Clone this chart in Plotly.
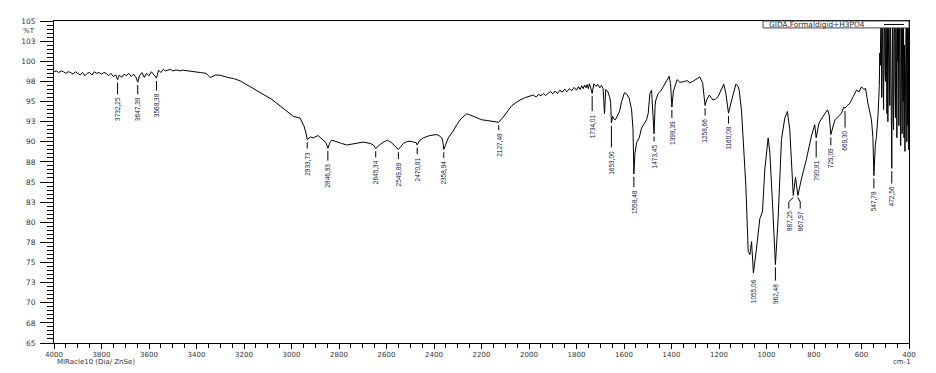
import plotly.graph_objects as go

# ---- spectrum (wavenumber cm-1, %T) ----
wavenumber = [
    4000, 3990, 3980, 3970, 3960, 3950, 3940, 3930, 3920, 3910, 3900, 3890, 3880, 3870,
    3860, 3850, 3840, 3830, 3820, 3810, 3800, 3790, 3780, 3770, 3760, 3750, 3740, 3732.25,
    3725, 3715, 3705, 3695, 3685, 3675, 3665, 3655, 3647.39, 3640, 3630, 3620, 3610, 3600,
    3590, 3580, 3568.38, 3560, 3550, 3540, 3530, 3520, 3510, 3500, 3490, 3480, 3470, 3460,
    3450, 3440, 3420, 3400, 3384, 3360, 3342, 3320, 3299, 3270, 3244, 3216, 3195, 3174,
    3150, 3132, 3104, 3085, 3062, 3040, 3020, 2992, 2964, 2947, 2940, 2933.73, 2920, 2909,
    2888, 2867, 2855, 2846.93, 2838, 2830, 2809, 2790, 2767, 2740, 2720, 2697, 2669, 2655,
    2645.34, 2635, 2627, 2610, 2596, 2580, 2564, 2549.89, 2540, 2529, 2515, 2501, 2485,
    2475, 2470.81, 2462, 2445, 2420, 2400, 2388, 2376, 2367, 2362, 2358.94, 2350, 2340,
    2320, 2304, 2285, 2270, 2262, 2250, 2235, 2215, 2199, 2180, 2165, 2145, 2135, 2127.48,
    2115, 2101, 2088, 2073, 2055, 2038, 2015, 2000,
    1982, 1970, 1960, 1950, 1940, 1930, 1920, 1910, 1900, 1890, 1880, 1870, 1860, 1850,
    1841, 1830, 1820, 1810, 1800, 1792, 1785, 1778, 1772, 1766, 1760, 1755, 1750, 1746, 1742,
    1734.01, 1727, 1718, 1710, 1702,
    1695, 1688, 1682, 1677, 1668, 1660, 1656, 1653.00, 1648, 1642, 1636, 1628, 1619, 1610,
    1598, 1588, 1578, 1568, 1562, 1558.48, 1554, 1547, 1536, 1526, 1512, 1505, 1498, 1491,
    1484, 1478, 1473.45, 1469, 1466, 1456, 1445, 1435, 1425, 1418, 1410, 1404, 1398.39,
    1392, 1386, 1376, 1365, 1351, 1335, 1323, 1310, 1302, 1290, 1281, 1269, 1263, 1258.66,
    1252, 1241, 1225, 1215, 1204, 1190, 1180, 1171, 1160.08, 1150, 1140, 1129, 1120, 1115,
    1105, 1098, 1087, 1077, 1070, 1063, 1055.06, 1042, 1028, 1017, 1007, 993, 986, 975,
    962.48, 951, 937, 923, 912, 902, 891, 887.25, 878, 873, 867.97, 853, 832, 811, 797,
    790.81, 779, 762, 743, 736, 729.09, 712, 695, 684, 675, 669.30, 660, 649, 635, 621,
    610, 600, 590, 583, 573, 558, 552, 547.78, 542, 537, 530, 527, 525, 523, 521, 519, 517,
    515, 513, 511, 509, 507, 505, 503, 501, 499, 497, 495, 493, 491, 489, 487, 485, 483,
    481, 479, 477, 475, 474, 472.56, 471, 469, 467, 465, 463, 461, 459, 457, 455, 453,
    451, 449, 447, 445, 443, 441, 439, 437, 435, 433, 431, 429, 427, 425, 423, 421, 419,
    417, 415, 413, 411, 409, 407, 405, 403, 401, 400,
]
transmittance = [
    98.7, 98.8, 98.6, 98.8, 98.7, 98.5, 98.7, 98.6, 98.4, 98.7, 98.5, 98.3, 98.6, 98.2,
    98.5, 98.6, 98.3, 98.7, 98.5, 98.6, 98.4, 98.6, 98.5, 98.2, 98.5, 98.1, 98.3, 97.7,
    98.3, 98.0, 98.4, 98.2, 98.5, 98.1, 98.4, 98.0, 97.4, 98.2, 98.6, 98.0, 98.5, 98.2,
    98.7, 98.3, 97.9, 98.9, 98.6, 99.0, 98.8, 98.9, 99.0, 98.8, 98.9, 98.9, 98.8, 98.9,
    98.85, 98.8, 98.7, 98.6, 98.6, 98.5, 97.97, 98.3, 98.25, 98.0, 97.85, 97.56, 97.2, 96.9,
    96.5, 96.2, 95.67, 95.3, 94.78, 94.3, 93.76, 93.15, 92.94, 91.92, 91.2, 90.28, 90.6, 90.48,
    90.77, 90.28, 89.9, 89.2, 89.9, 90.2, 89.96, 89.8, 89.6, 89.75, 89.9, 89.96, 89.79, 89.6,
    89.17, 89.5, 89.66, 90.0, 90.2, 89.9, 89.38, 89.05, 89.4, 89.79, 90.0, 90.08, 89.95,
    89.9, 89.6, 90.1, 90.48, 90.75, 90.85, 90.89, 90.7, 90.48, 89.9, 89.05, 89.7, 90.48,
    91.3, 92.12, 92.9, 93.35, 93.47, 93.35, 93.15, 92.9, 92.73, 92.65, 92.61, 92.5, 92.45, 92.41,
    92.8, 93.34, 93.9, 94.45, 94.85, 95.18, 95.5, 95.65,
    95.8, 95.55, 95.9, 95.7, 96.0, 95.75, 95.95, 96.25, 95.95, 96.3, 96.0, 96.4, 96.15, 96.55,
    96.2, 96.6, 96.35, 96.75, 96.4, 96.85, 96.5, 96.95, 96.6, 97.05, 96.7, 97.1, 96.6, 97.2, 96.9,
    96.0, 97.2, 96.9, 97.1, 96.7,
    97.0, 96.6, 93.5, 96.5, 96.2, 95.5, 94.78, 92.33, 93.15, 92.8, 92.73, 93.3, 93.76, 95.0,
    96.1, 95.9, 95.39, 93.96, 91.5, 86.0, 88.5, 89.9, 90.48, 91.7, 92.3, 92.73, 93.55, 96.0,
    96.4, 94.0, 91.0, 94.5, 95.18, 96.0, 96.3, 96.83, 97.3, 97.64, 98.13, 97.23, 94.3,
    96.3, 96.83, 97.72, 97.4, 97.44, 97.6, 97.32, 97.5, 97.64, 97.9, 98.06, 97.32, 96.0, 94.5,
    95.2, 95.8, 95.18, 95.3, 95.6, 96.5, 97.15, 96.0, 93.55, 94.8, 96.1, 97.15, 96.9, 96.4,
    93.8, 90.7, 84.56, 76.37, 75.97, 77.6, 73.7, 76.78, 80.46, 81.28, 86.6, 90.48, 88.64, 82.5,
    74.74, 80.46, 90.28, 92.94, 93.76, 91.5, 85.37, 83.33, 85.58, 84.5, 83.33, 85.37, 87.82, 90.69, 92.12,
    90.48, 92.33, 93.15, 93.96, 93.34, 90.89, 92.73, 93.2, 93.55, 94.3, 94.17, 94.5, 94.78, 95.6, 96.41,
    96.2, 96.83, 96.5, 96.62, 94.78, 92.73, 90.5, 85.8, 89.5, 90.69, 93.55, 95.0, 97.0, 101, 99.5, 104, 106,
    95.5, 102, 108, 97, 94.0, 103, 107, 99, 97.5, 110, 101, 93.5, 106, 92.5, 100, 106, 96,
    94.5, 108, 104, 99, 92, 86.7, 100, 108, 95, 91.5, 104, 107, 97, 93, 109, 102,
    90.5, 106, 100, 108, 92, 96, 110, 94, 89.5, 107, 101, 91, 109, 95, 106, 90.5, 102,
    88.8, 106, 97, 110, 90, 108, 92, 107, 89, 100, 88.0,
]

# ---- peak picks ----
peak_wn = [3732.25, 3647.39, 3568.38, 2933.73, 2846.93, 2645.34, 2549.89, 2470.81,
           2358.94, 2127.48, 1734.01, 1653.00, 1558.48, 1473.45, 1398.39, 1258.66,
           1160.08, 1055.06, 962.48, 887.25, 867.97, 790.81, 729.09, 669.30, 547.78, 472.56]
peak_T = [97.7, 97.4, 97.9, 90.28, 89.2, 89.17, 89.05, 89.6,
          89.05, 92.41, 96.0, 92.33, 86.0, 91.0, 94.3, 94.5,
          93.55, 73.7, 74.74, 83.33, 83.33, 90.48, 90.89, 94.17, 85.8, 86.7]
label_wn = [3732.25, 3647.39, 3568.38, 2933.73, 2846.93, 2645.34, 2549.89, 2470.81,
            2358.94, 2127.48, 1734.01, 1653.00, 1558.48, 1473.45, 1398.39, 1258.66,
            1160.08, 1055.06, 962.48, 906.0, 858.0, 790.81, 729.09, 669.30, 547.78, 472.56]
label_T = [95.64, 95.64, 96.1, 88.9, 87.4, 87.8, 87.6, 88.2,
           87.75, 91.2, 93.55, 89.05, 84.1, 89.8, 92.7, 93.0,
           92.0, 73.1, 72.5, 81.5, 81.5, 87.8, 89.3, 91.5, 83.95, 84.55]

x_tickvals = [4000, 3800, 3600, 3400, 3200, 3000, 2800, 2600, 2400, 2200, 2000, 1800,
              1600, 1400, 1200, 1000, 800, 600, 400]
y_tickvals = [105, 102.5, 100, 97.5, 95, 92.5, 90, 87.5, 85, 82.5, 80, 77.5, 75, 72.5, 70, 67.5, 65]
y_ticktext = ["105", "103", "100", "98", "95", "93", "90", "88", "85", "83", "80", "78",
              "75", "73", "70", "68", "65"]

series_name = "GIDA.Formaldigid+H3PO4"

fig = go.Figure()
fig.add_trace(go.Scatter(x=wavenumber, y=transmittance, mode="lines",
                         line=dict(color="black", width=1), showlegend=False,
                         hoverinfo="skip"))

shapes = []
annotations = []
label_font = dict(family="Liberation Sans Narrow, Liberation Sans, Arial, sans-serif",
                  size=6.5, color="#202048")
for pw, pt, lw, lt in zip(peak_wn, peak_T, label_wn, label_T):
    if abs(pw - lw) > 1:
        mid = pt - 0.8
        shapes.append(dict(type="line", xref="x", yref="y", x0=pw, y0=pt - 0.25,
                           x1=lw, y1=mid, line=dict(color="black", width=1)))
        shapes.append(dict(type="line", xref="x", yref="y", x0=lw, y0=mid,
                           x1=lw, y1=lt + 0.2, line=dict(color="black", width=1)))
    else:
        shapes.append(dict(type="line", xref="x", yref="y", x0=pw, y0=pt - 0.35,
                           x1=lw, y1=lt + 0.25, line=dict(color="black", width=1)))
    annotations.append(dict(x=lw, y=lt, xref="x", yref="y", text=f"{pw:.2f}".replace(".", ","),
                            showarrow=False, textangle=-90, xanchor="center", yanchor="top",
                            font=label_font, borderpad=0))

# page body has an 8px margin: plot area sits at x 54..909, y 17..343 in the window
PX0, PW, PY1, PH = 54, 855, 343, 326
def px(xp):
    return (xp - PX0) / PW
def py(yp):
    return (PY1 - yp) / PH

small = dict(family="DejaVu Sans", size=7, color="#333")
# legend box
shapes.append(dict(type="rect", xref="paper", yref="paper", x0=px(763), x1=1.0,
                   y0=py(24), y1=1.0, line=dict(color="#444", width=1), fillcolor="white"))
shapes.append(dict(type="line", xref="paper", yref="paper", x0=px(884), x1=px(904),
                   y0=py(20.5), y1=py(20.5), line=dict(color="black", width=1)))
annotations.append(dict(x=px(767), y=py(20.5), xref="paper", yref="paper", text=series_name,
                        showarrow=False, xanchor="left", yanchor="middle",
                        font=dict(family="DejaVu Sans", size=7.4, color="#333")))
annotations.append(dict(x=px(21), y=py(27.5), xref="paper", yref="paper", text="%T",
                        showarrow=False, xanchor="left", yanchor="middle", font=small))
annotations.append(dict(x=px(55), y=py(362), xref="paper", yref="paper",
                        text="MIRacle10 (Dia/ ZnSe)", showarrow=False, xanchor="left",
                        yanchor="middle", font=small))
annotations.append(dict(x=px(913), y=py(362), xref="paper", yref="paper",
                        text="cm-1", showarrow=False, xanchor="right",
                        yanchor="middle", font=small))

fig.update_layout(
    width=928, height=365,
    margin=dict(l=46, r=27, t=9, b=30),
    plot_bgcolor="white", paper_bgcolor="white",
    font=dict(family="DejaVu Sans", size=7, color="#333"),
    shapes=shapes, annotations=annotations,
    xaxis=dict(range=[4000, 400], tickmode="array", tickvals=x_tickvals,
               ticktext=[str(v) for v in x_tickvals],
               ticks="outside", ticklen=5, tickwidth=1, tickcolor="black",
               showline=True, linecolor="black", linewidth=1, mirror=True,
               showgrid=False, zeroline=False,
               minor=dict(tickmode="linear", tick0=400, dtick=50, ticks="outside",
                          ticklen=4, tickcolor="black", showgrid=False)),
    yaxis=dict(range=[65, 105], tickmode="array", tickvals=y_tickvals, ticktext=y_ticktext,
               ticks="outside", ticklen=13, tickwidth=1, tickcolor="black",
               showline=True, linecolor="black", linewidth=1, mirror=True,
               showgrid=False, zeroline=False, ticklabelstandoff=3,
               tickfont=dict(family="DejaVu Sans", size=7.5, color="#333"),
               minor=dict(tickmode="linear", tick0=65, dtick=0.5, ticks="outside",
                          ticklen=6, tickcolor="black", showgrid=False)),
)

fig.write_html("out.html")
